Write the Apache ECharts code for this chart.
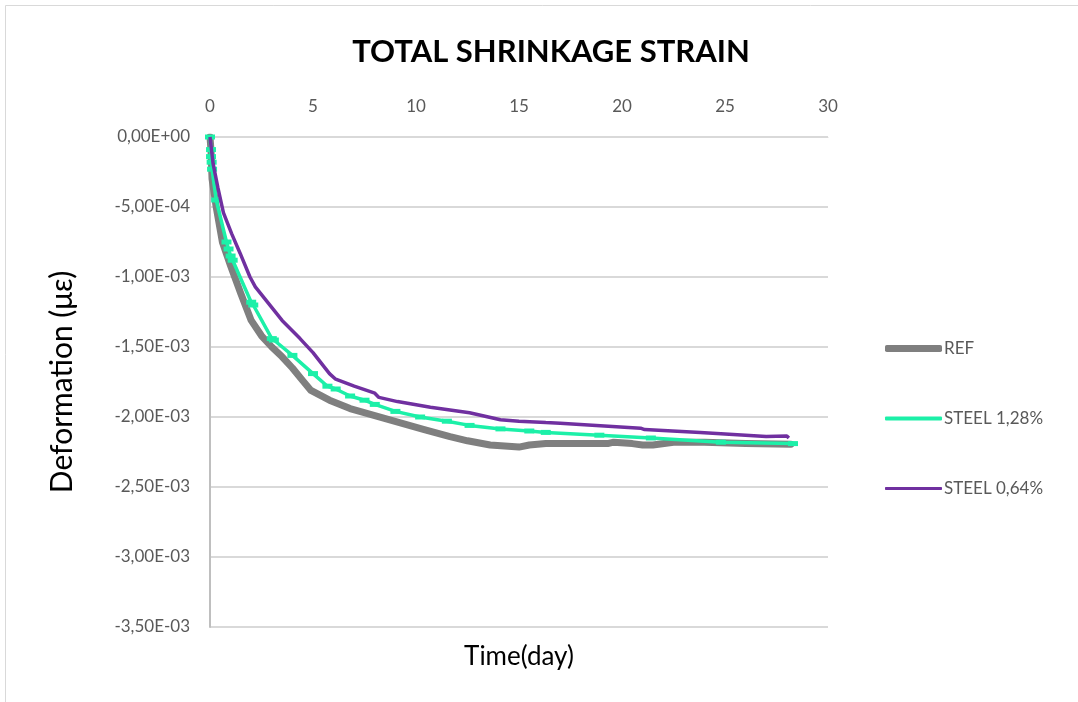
<!DOCTYPE html>
<html>
<head>
<meta charset="utf-8">
<script src="https://cdn.jsdelivr.net/npm/echarts@6/dist/echarts.min.js"></script>
<style>html,body{margin:0;padding:0;background:#fff}#c{width:1078px;height:702px}</style>
</head>
<body>
<div id="c"></div>
<script>
// Data (days, strain in 1E-3 units)
const refDays = [0, 0.05, 0.1, 0.3, 0.6, 1.0, 1.5, 2.0, 2.5, 3.0, 3.5, 4.0, 4.5, 4.9, 5.8, 6.8, 8, 9.2, 10.4, 11.65, 12.5, 13.6, 15, 15.5, 16.3, 18, 19.3, 19.6, 20.5, 21, 21.5, 22.5, 24, 26, 28.2];
const refVals = [0, -0.1, -0.3, -0.5, -0.75, -0.92, -1.12, -1.31, -1.42, -1.5, -1.57, -1.65, -1.74, -1.81, -1.88, -1.94, -1.99, -2.04, -2.09, -2.14, -2.17, -2.2, -2.215, -2.2, -2.19, -2.19, -2.19, -2.18, -2.19, -2.2, -2.2, -2.18, -2.18, -2.19, -2.195];

const s128Days = [0, 0.05, 0.05, 0.08, 0.1, 0.3, 0.8, 0.9, 1.0, 1.1, 2.0, 2.1, 3.0, 3.1, 4.0, 5.0, 5.7, 6.1, 6.8, 7.5, 8.0, 9.0, 10.2, 11.5, 12.6, 14.1, 15.5, 16.3, 18.9, 21.4, 24.8, 28.3];
const s128Vals = [0, -0.09, -0.14, -0.18, -0.23, -0.45, -0.75, -0.8, -0.85, -0.88, -1.18, -1.2, -1.44, -1.45, -1.56, -1.69, -1.78, -1.8, -1.85, -1.88, -1.91, -1.96, -2.0, -2.03, -2.06, -2.085, -2.1, -2.11, -2.13, -2.15, -2.18, -2.19];

const s064Days = [0, 0.15, 0.38, 0.65, 1.05, 1.46, 1.94, 2.2, 3.5, 4.37, 5.0, 5.8, 6.1, 7, 8, 8.2, 9.1, 10.7, 12.6, 14.1, 15, 16.3, 17, 20.9, 21.1, 23.8, 27, 28, 28.1];
const s064Vals = [0, -0.19, -0.36, -0.54, -0.69, -0.83, -1.0, -1.07, -1.31, -1.44, -1.54, -1.69, -1.73, -1.78, -1.83, -1.86, -1.89, -1.93, -1.97, -2.02, -2.03, -2.04, -2.045, -2.08, -2.09, -2.11, -2.14, -2.135, -2.15];

const seriesNames = ['REF', 'STEEL 1,28%', 'STEEL 0,64%'];
const seriesColors = ['#7f7f7f', '#1cf0a8', '#7030a0'];
const xTicks = [0, 5, 10, 15, 20, 25, 30];

function pairs(d, v) { return d.map((x, i) => [x, v[i] * 1e-3]); }

function fmt(v) {
  if (Math.abs(v) < 1e-12) return '0,00E+00';
  const s = v.toExponential(2);
  const parts = s.split('e');
  const ei = parseInt(parts[1], 10);
  const es = (ei < 0 ? '-' : '+') + String(Math.abs(ei)).padStart(2, '0');
  return parts[0].replace('.', ',') + 'E' + es;
}

const FONT = 'Lato, "Open Sans", sans-serif';
const legendH = [7, 4, 3];
const legendTops = [335, 405, 475];
const legends = seriesNames.map((n, i) => ({
  orient: 'vertical', left: 880, top: legendTops[i], itemWidth: 57, itemHeight: legendH[i],
  icon: 'roundRect', data: [n],
  itemStyle: {color: seriesColors[i], borderWidth: 0},
  textStyle: {fontFamily: FONT, fontSize: 17, color: '#595959', padding: [0, 0, 0, -3]}
}));

const chart = echarts.init(document.getElementById('c'), null, {renderer: 'canvas'});
chart.setOption({
  animation: false,
  backgroundColor: '#fff',
  graphic: [{
    type: 'rect', shape: {x: 5.5, y: 5.5, width: 1200, height: 1000},
    style: {fill: 'none', stroke: '#d9d9d9', lineWidth: 1}, silent: true
  }],
  title: {
    text: 'TOTAL SHRINKAGE STRAIN', left: 546, top: 31, textAlign: 'center',
    textStyle: {fontFamily: FONT, fontWeight: 'bold', fontSize: 31, color: '#000'}
  },
  legend: legends,
  grid: {left: 210, right: 250, top: 137, bottom: 75},
  xAxis: {
    type: 'value', position: 'top', min: xTicks[0], max: xTicks[xTicks.length - 1], interval: 5,
    name: 'Time(day)', nameLocation: 'middle', nameGap: -533,
    nameTextStyle: {fontFamily: FONT, fontSize: 26, color: '#000'},
    axisLine: {show: true, onZero: false, lineStyle: {color: '#d9d9d9', width: 1}},
    axisTick: {show: false},
    axisLabel: {fontFamily: FONT, fontSize: 17, color: '#595959', margin: 22},
    splitLine: {show: false}
  },
  yAxis: {
    type: 'value', min: -0.0035, max: 0, interval: 0.0005,
    name: 'Deformation (με)', nameLocation: 'middle', nameGap: 133, nameRotate: 90,
    nameTextStyle: {fontFamily: FONT, fontSize: 30, color: '#000'},
    axisLine: {show: true, onZero: false, lineStyle: {color: '#bfbfbf', width: 2}},
    axisTick: {show: false},
    axisLabel: {fontFamily: FONT, fontSize: 17, color: '#595959', margin: 20, formatter: fmt},
    splitLine: {show: true, lineStyle: {color: '#d9d9d9', width: 2}}
  },
  series: [
    {name: seriesNames[0], type: 'line', data: pairs(refDays, refVals), showSymbol: false, symbol: 'none',
     lineStyle: {color: seriesColors[0], width: 7, cap: 'round', join: 'round'}, itemStyle: {color: seriesColors[0]}, z: 1},
    {name: seriesNames[1], type: 'line', data: pairs(s128Days, s128Vals), showSymbol: true, symbol: 'rect', symbolSize: [10, 5],
     lineStyle: {color: seriesColors[1], width: 3.5}, itemStyle: {color: seriesColors[1]}, z: 2},
    {name: seriesNames[2], type: 'line', data: pairs(s064Days, s064Vals), showSymbol: false, symbol: 'none',
     lineStyle: {color: seriesColors[2], width: 3.5}, itemStyle: {color: seriesColors[2]}, z: 3}
  ]
});
</script>
</body>
</html>
